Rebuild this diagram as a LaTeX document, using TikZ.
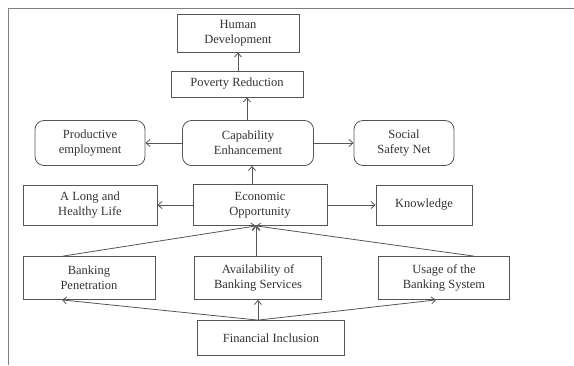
\documentclass[tikz,border=0pt]{standalone}
\usepackage{fontspec}
\setmainfont{Liberation Serif}
\usetikzlibrary{arrows.meta, positioning, calc}
\definecolor{linegray}{HTML}{555555}
\definecolor{textgray}{HTML}{333333}

\begin{document}
\begin{tikzpicture}[x=1pt, y=-1pt,
    box/.style={draw=linegray, line width=0.8pt, text=textgray, align=center,
      font=\fontsize{12.5}{15}\selectfont, inner sep=1pt},
    roundbox/.style={box, rounded corners=9pt},
    link/.style={draw=linegray, line width=0.8pt, -{Straight Barb[length=4pt, width=7pt]}}]
  % page and the two frame lines
  \useasboundingbox (0,0) rectangle (574,365);
  \draw[gray, line width=1pt] (574,8) -- (8,8) -- (8,365);
  % top of the chain
  \node[box, minimum width=122, minimum height=38] (hd) at (238,33) {Human\\Development};
  \node[box, minimum width=132, minimum height=26] (pr) at (237,84) {Poverty Reduction};
  % capabilities
  \node[roundbox, minimum width=110, minimum height=45] (pe) at (90,143) {Productive\\employment};
  \node[roundbox, minimum width=131, minimum height=45] (ce) at (248,143) {Capability\\Enhancement};
  \node[roundbox, minimum width=100, minimum height=45] (ssn) at (404,143) {Social\\Safety Net};
  % opportunities
  \node[box, minimum width=134, minimum height=40] (life) at (90,205) {A Long and\\Healthy Life};
  \node[box, minimum width=134, minimum height=41] (eo) at (260,205) {Economic\\Opportunity};
  \node[box, minimum width=96, minimum height=40] (know) at (424,205) {Knowledge};
  % banking
  \node[box, minimum width=132, minimum height=43] (pen) at (89,278) {Banking\\Penetration};
  \node[box, minimum width=127, minimum height=43] (avail) at (258,278) {Availability of\\Banking Services};
  \node[box, minimum width=131, minimum height=43] (usage) at (444,278) {Usage of the\\Banking System};
  \node[box, minimum width=147, minimum height=35] (fi) at (271,338) {Financial Inclusion};
  % meeting points of the slanted arrows
  \coordinate (fitop) at (avail.south |- fi.north);
  \coordinate (eobot) at ($(eo.south)+(-4,0)$);
  % arrows
  \draw[link] (pr.north -| hd.south) -- (hd.south);
  \draw[link] (ce.north -| 247,0) -- (pr.south -| 247,0);
  \draw[link] (eo.north -| 252,0) -- (ce.south -| 252,0);
  \draw[link] (ce.west) -- (pe.east);
  \draw[link] (ce.east) -- (ssn.west);
  \draw[link] (eo.west) -- (life.east);
  \draw[link] (eo.east) -- (know.east -| know.west);
  \draw[link] (pen.north -| 63,0) -- (eobot);
  \draw[link] (avail.north -| eobot) -- (eobot);
  \draw[link] (usage.north -| 474,0) -- (eobot);
  \draw[link] (fitop) -- (pen.south -| 62,0);
  \draw[link] (fitop) -- (avail.south);
  \draw[link] (fitop) -- (usage.south -| 436,0);
\end{tikzpicture}
\end{document}
